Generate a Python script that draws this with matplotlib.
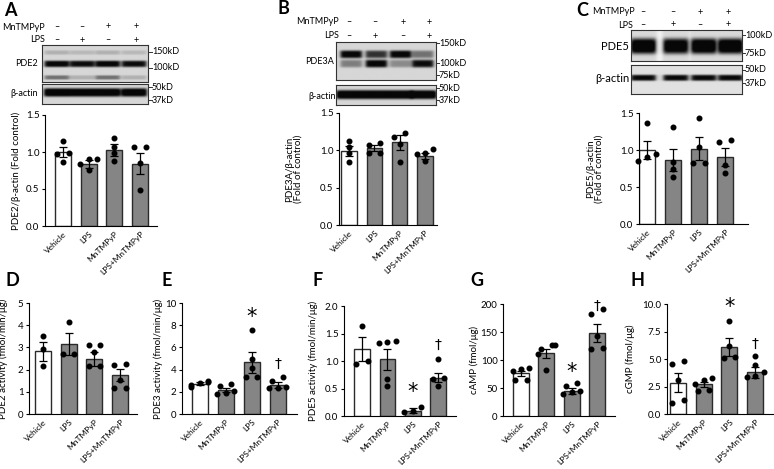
import numpy as np
import matplotlib
matplotlib.use('Agg')
import matplotlib.pyplot as plt

plt.rcParams['font.family'] = ['Lato', 'DejaVu Sans']
plt.rcParams['axes.linewidth'] = 0.8

W, H = 774, 469

# ---- data ----
GROUPS_A = ['Vehicle', 'LPS', 'MnTMPyP', 'LPS+MnTMPyP']
GROUPS_B = ['Vehicle', 'MnTMPyP', 'LPS', 'LPS+MnTMPyP']

A_mean = [1.00, 0.84, 1.03, 0.84]
A_sem = [0.07, 0.05, 0.08, 0.14]
A_pts = [[1.15, 0.99, 0.97, 0.86], [0.91, 0.91, 0.84, 0.75],
         [1.19, 1.07, 0.99, 0.88], [1.07, 1.07, 0.85, 0.48]]

B_mean = [0.99, 1.03, 1.11, 0.92]
B_sem = [0.07, 0.04, 0.10, 0.04]
B_pts = [[1.13, 1.05, 0.96, 0.84], [1.10, 1.07, 0.97, 0.96],
         [1.23, 1.18, 1.09, 0.84], [1.02, 0.95, 0.96, 0.86]]

C_mean = [1.00, 0.86, 1.02, 0.91]
C_sem = [0.12, 0.15, 0.15, 0.12]
C_pts = [[1.36, 0.95, 0.91, 0.85], [1.31, 0.84, 0.74, 0.63],
         [1.43, 1.04, 0.82, 0.82], [1.14, 1.11, 0.80, 0.69]]

D_mean = [2.82, 3.15, 2.48, 1.74]
D_sem = [0.42, 0.50, 0.32, 0.27]
D_pts = [[3.53, 2.94, 2.15], [4.14, 2.72, 2.72],
         [3.12, 3.12, 2.79, 2.18, 2.18], [2.25, 2.22, 1.55, 1.15, 1.15]]

E_mean = [2.72, 2.20, 4.65, 2.58]
E_sem = [0.12, 0.18, 0.95, 0.28]
E_pts = [[2.95, 2.85, 2.75, 2.60, 2.45], [2.70, 2.55, 2.05, 1.90, 1.80],
         [7.60, 4.10, 3.30, 3.30, 4.95], [3.37, 2.95, 2.45, 2.30, 2.30]]

F_mean = [1.22, 1.03, 0.10, 0.70]
F_sem = [0.22, 0.19, 0.04, 0.09]
F_pts = [[1.64, 1.00, 0.94], [1.37, 1.32, 1.35, 0.68, 0.55],
         [0.17, 0.09, 0.08], [1.04, 0.70, 0.67, 0.55]]

G_mean = [76.0, 112.0, 45.0, 149.0]
G_sem = [5.0, 8.0, 5.0, 16.0]
G_pts = [[86.0, 84.0, 81.0, 65.0, 64.0], [127.0, 126.0, 119.0, 110.0, 82.0],
         [59.0, 54.0, 44.0, 43.0, 40.0], [191.0, 182.0, 143.0, 121.0, 119.0]]

H_mean = [2.85, 2.72, 6.13, 3.78]
H_sem = [0.85, 0.22, 0.82, 0.48]
H_pts = [[4.83, 4.56, 3.05, 1.24, 1.00], [3.30, 3.10, 2.72, 2.20, 2.05],
         [8.46, 6.20, 5.20, 5.10], [5.30, 4.45, 3.80, 3.45, 3.40]]

# significance marks: (group index, symbol, y)
E_sig = [(2, '*', 8.75), (3, '†', 4.55)]
F_sig = [(2, '*', 0.43), (3, '†', 1.30)]
G_sig = [(2, '*', 79.0), (3, '†', 197.0)]
H_sig = [(2, '*', 9.75), (3, '†', 6.40)]

# western blot band intensity per lane: (relative y, width, [lane intensities])
PDE2_bands = [(0.20, 0.05, [0.15, 0.12, 0.15, 0.12]),
              (0.51, 0.075, [0.85, 0.80, 0.85, 0.80]),
              (0.88, 0.05, [0.40, 0.15, 0.40, 0.15])]
ACTIN_A_bands = [(0.42, 0.18, [0.95, 0.92, 0.92, 0.92])]
PDE3A_bands = [(0.34, 0.085, [0.85, 0.65, 0.85, 0.40]),
               (0.58, 0.085, [0.35, 0.85, 0.30, 0.80])]
ACTIN_B_bands = [(0.48, 0.19, [0.95, 0.95, 0.95, 0.95])]
PDE5_bands = [(0.52, 0.21, [1.0, 0.95, 1.0, 1.0])]
ACTIN_C_bands = [(0.44, 0.09, [0.85, 0.85, 0.85, 0.85])]

fig = plt.figure(figsize=(W / 100, H / 100), dpi=100)


def px_axes(x0, y0, x1, y1):
    return fig.add_axes([x0 / W, 1 - y1 / H, (x1 - x0) / W, (y1 - y0) / H])


def ftext(x, y, s, **kw):
    kw.setdefault('fontsize', 6.5)
    fig.text(x / W, 1 - y / H, s, **kw)


def blot(box, bands, lanes, lane_w, bg=0.84, tint=0.0):
    ax = px_axes(*box)
    h, w = 120, 400
    yy = np.linspace(0, 1, h)[:, None]
    xx = np.linspace(0, 1, w)[None, :]
    img = np.full((h, w), bg)
    for lx in lanes:
        gx = 1 / (1 + np.exp(-(xx - (lx - lane_w / 2 - 0.01)) / 0.008)) \
            * 1 / (1 + np.exp((xx - (lx + lane_w / 2 + 0.01)) / 0.008))
        img = img - tint * gx + 0 * yy
    for yc, sig, inten in bands:
        gy = np.exp(-0.5 * ((yy - yc) / sig) ** 4)
        for lx, a in zip(lanes, inten):
            gx = 1 / (1 + np.exp(-(xx - (lx - lane_w / 2)) / 0.01)) \
                * 1 / (1 + np.exp((xx - (lx + lane_w / 2)) / 0.01))
            img = img - a * gy * gx
    img = np.clip(img, 0.03, 1)
    ax.imshow(img, cmap='gray', vmin=0, vmax=1, aspect='auto',
              extent=(0, 1, 1, 0), interpolation='bilinear')
    ax.set_xticks([])
    ax.set_yticks([])
    for s in ax.spines.values():
        s.set_linewidth(0.8)
        s.set_color('#333333')
    return ax


def kd(x, y, s):
    fig.add_artist(plt.Line2D([x / W, (x + 3) / W], [1 - y / H, 1 - y / H],
                              color='#333333', lw=0.7))
    ftext(x + 3, y, s, va='center', ha='left')


def swarm(vals, span):
    vals = np.asarray(vals, float)
    off = np.zeros(len(vals))
    order = np.argsort(vals)
    clusters, cur = [], [order[0]]
    for i in order[1:]:
        if abs(vals[i] - vals[cur[-1]]) < span:
            cur.append(i)
        else:
            clusters.append(cur)
            cur = [i]
    clusters.append(cur)
    for c in clusters:
        n = len(c)
        if n > 1:
            pos = np.linspace(-0.22 * (n - 1), 0.22 * (n - 1), n)
            pos = np.clip(pos, -0.33, 0.33)
            for k, i in enumerate(c):
                off[i] = pos[k]
    return off


def bars(box, xlim, ylim, ticks, labels, mean, sem, pts, ylabel, ylab_x,
         sig=None, ticklabels=None):
    ax = px_axes(*box)
    x = np.arange(len(mean))
    cols = ['white'] + ['#858585'] * (len(mean) - 1)
    ax.bar(x, mean, width=0.62, color=cols, edgecolor='#2a2a2a', lw=1.0, zorder=2)
    ax.errorbar(x, mean, yerr=sem, fmt='none', ecolor='black', elinewidth=0.9,
                capsize=2.8, capthick=0.9, zorder=4)
    span = (ylim[1] - ylim[0]) * 0.05
    for i, p in enumerate(pts):
        ax.plot(x[i] + swarm(p, span), p, 'o', color='black', ms=3.3, zorder=5,
                clip_on=False)
    if sig:
        for gi, sym, yv in sig:
            if sym == '*':
                ax.text(gi, yv, sym, ha='center', va='center', fontsize=15,
                        family='DejaVu Sans')
            else:
                ax.text(gi, yv, sym, ha='center', va='center', fontsize=10,
                        family='DejaVu Sans')
    ax.set_xlim(*xlim)
    ax.set_ylim(*ylim)
    ax.set_yticks(ticks)
    if ticklabels:
        ax.set_yticklabels(ticklabels)
    ax.set_xticks(x)
    ax.set_xticklabels(labels, rotation=45, ha='right', rotation_mode='anchor')
    ax.tick_params(axis='x', length=0, pad=3, labelsize=6)
    ax.tick_params(axis='y', length=2.5, width=0.8, pad=1.5, labelsize=7)
    ax.spines['top'].set_visible(False)
    ax.spines['right'].set_visible(False)
    ax.set_ylabel(ylabel, fontsize=7, linespacing=1.0)
    ax.yaxis.set_label_coords((ylab_x - box[0]) / (box[2] - box[0]), 0.5)
    return ax


def signs(xs, y_mn, y_lps, mn, lps):
    for x, a, b in zip(xs, mn, lps):
        ftext(x, y_mn, a, ha='center', va='center')
        ftext(x, y_lps, b, ha='center', va='center')


MN_A = ['–', '–', '+', '+']
LPS_A = ['–', '+', '–', '+']

# ---------------- Panel A ----------------
ftext(10, 11, 'A', fontsize=13, weight='bold', va='center', ha='center')
ftext(45, 27, 'MnTMPyP', ha='right', va='center')
ftext(45, 40, 'LPS', ha='right', va='center')
signs([57, 82, 108, 136], 27, 40, MN_A, LPS_A)
blot((42, 45, 148, 82), PDE2_bands, [0.14, 0.38, 0.62, 0.87], 0.23)
blot((42, 84, 148, 104), ACTIN_A_bands, [0.14, 0.38, 0.62, 0.87], 0.24)
ftext(38, 64, 'PDE2', ha='right', va='center')
ftext(38, 93, 'β-actin', ha='right', va='center')
kd(149, 52, '150kD')
kd(149, 68, '100kD')
kd(149, 87, '50kD')
kd(149, 100, '37kD')
bars((45, 115, 157, 226), (-0.70, 3.66), (0, 1.5), [0, 0.5, 1.0, 1.5], GROUPS_A,
     A_mean, A_sem, A_pts, 'PDE2/β-actin (Fold control)', 21,
     ticklabels=['0.0', '0.5', '1.0', '1.5'])

# ---------------- Panel B ----------------
ftext(283, 9, 'B', fontsize=13, weight='bold', va='center', ha='center')
ftext(339, 22, 'MnTMPyP', ha='right', va='center')
ftext(339, 36, 'LPS', ha='right', va='center')
signs([349, 375, 403, 429], 22, 36, MN_A, LPS_A)
blot((336, 42, 436, 80), PDE3A_bands, [0.15, 0.40, 0.64, 0.86], 0.21)
blot((336, 85, 436, 105), ACTIN_B_bands, [0.13, 0.38, 0.63, 0.87], 0.25)
ftext(320, 62, 'PDE3A', ha='center', va='center')
ftext(322, 96, 'β-actin', ha='center', va='center')
kd(436, 43, '150kD')
kd(436, 63, '100kD')
kd(436, 75, '75kD')
kd(436, 88, '50kD')
kd(436, 100, '37kD')
bars((339, 113, 437, 225), (-0.40, 3.48), (0, 1.5), [0, 0.5, 1.0, 1.5], GROUPS_A,
     B_mean, B_sem, B_pts, 'PDE3A/β-actin\n(Fold of control)', 303,
     ticklabels=['0.0', '0.5', '1.0', '1.5'])

# ---------------- Panel C ----------------
ftext(582, 11, 'C', fontsize=13, weight='bold', va='center', ha='center')
ftext(592, 12, 'MnTMPyP', ha='left', va='center')
ftext(633, 25, 'LPS', ha='right', va='center')
signs([643, 673, 700, 728], 12, 25, MN_A, ['–', '+', '–', '+'])
blot((631, 30, 742, 61), PDE5_bands, [0.11, 0.40, 0.65, 0.89], 0.22, bg=0.95, tint=0.1)
blot((631, 65, 742, 94), ACTIN_C_bands, [0.11, 0.40, 0.65, 0.89], 0.22, bg=0.88)
ftext(629, 46, 'PDE5', ha='right', va='center', fontsize=8)
ftext(629, 79, 'β-actin', ha='right', va='center', fontsize=8)
kd(742, 35, '100kD')
kd(742, 53, '75kD')
kd(742, 70, '50kD')
kd(742, 83, '37kD')
bars((639, 113, 748, 224), (-0.31, 3.88), (0, 1.5), [0, 0.5, 1.0, 1.5], GROUPS_B,
     C_mean, C_sem, C_pts, 'PDE5/β-actin\n(Fold of control)', 604,
     ticklabels=['0.0', '0.5', '1.0', '1.5'])

# ---------------- bottom row ----------------
ftext(12, 280, 'D', fontsize=13, weight='bold', va='center', ha='center')
bars((29, 303, 137, 414), (-0.54, 3.66), (0, 5), [0, 1, 2, 3, 4, 5], GROUPS_A,
     D_mean, D_sem, D_pts, 'PDE2 activity (fmol/min/μg)', 8)

ftext(167, 280, 'E', fontsize=13, weight='bold', va='center', ha='center')
bars((182, 303, 297, 414), (-0.69, 3.75), (0, 10), [0, 2, 4, 6, 8, 10], GROUPS_B,
     E_mean, E_sem, E_pts, 'PDE3 activity (fmol/min/μg)', 163, sig=E_sig)

ftext(318, 281, 'F', fontsize=13, weight='bold', va='center', ha='center')
bars((344, 306, 456, 416), (-0.71, 3.70), (0, 2.0), [0, 0.5, 1.0, 1.5, 2.0], GROUPS_B,
     F_mean, F_sem, F_pts, 'PDE5 activity (fmol/min/μg)', 318, sig=F_sig,
     ticklabels=['0.0', '0.5', '1.0', '1.5', '2.0'])

ftext(477, 281, 'G', fontsize=13, weight='bold', va='center', ha='center')
bars((503, 304, 615, 416), (-0.71, 3.71), (0, 200), [0, 50, 100, 150, 200], GROUPS_B,
     G_mean, G_sem, G_pts, 'cAMP (fmol/μg)', 479, sig=G_sig)

ftext(637, 280, 'H', fontsize=13, weight='bold', va='center', ha='center')
bars((667, 304, 773, 414), (-0.43, 3.70), (0, 10), [0, 2.5, 5.0, 7.5, 10.0], GROUPS_B,
     H_mean, H_sem, H_pts, 'cGMP (fmol/μg)', 635, sig=H_sig,
     ticklabels=['0.0', '2.5', '5.0', '7.5', '10.0'])

fig.savefig('out.png', dpi=100)
